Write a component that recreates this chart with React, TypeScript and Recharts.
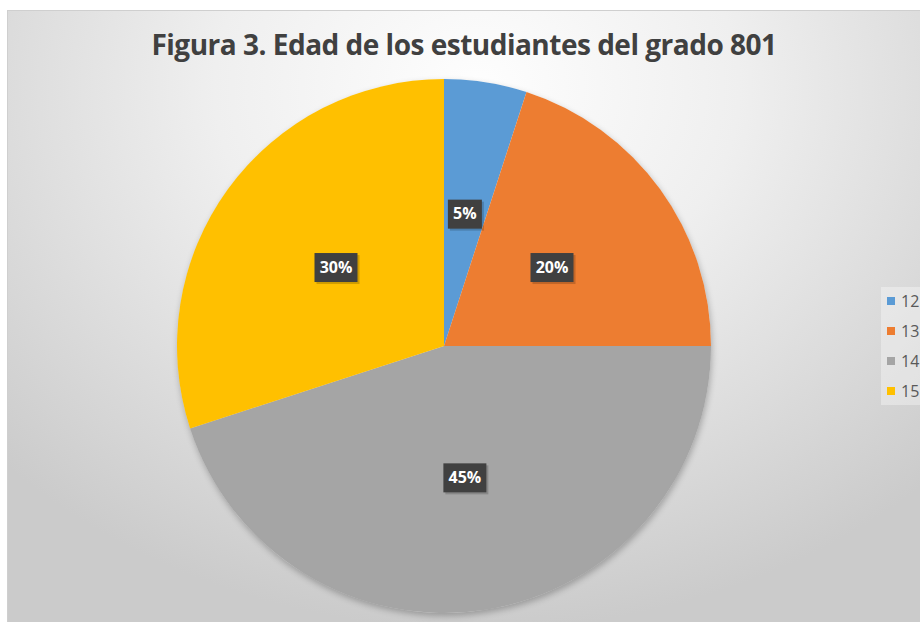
import { PieChart, Pie, Cell, Legend } from 'recharts';

const edades = ['12', '13', '14', '15'];
const porcentajes = [5, 20, 45, 30];
const colores = ['#5B9BD5', '#ED7D31', '#A5A5A5', '#FFC000'];
const titulo = 'Figura 3. Edad de los estudiantes del grado 801';

const data = edades.map((edad, i) => ({ name: edad, value: porcentajes[i] }));

const RAD = Math.PI / 180;

// data label: dark box with white bold text at half radius
const renderLabel = (props: any) => {
  const { cx, cy, midAngle, outerRadius, value } = props;
  const r = outerRadius * 0.5;
  const x = cx + r * Math.cos(-midAngle * RAD);
  const y = cy + r * Math.sin(-midAngle * RAD);
  const txt = `${value}%`;
  const w = txt.length > 2 ? 43 : 34;
  const h = 29;
  return (
    <g>
      <rect x={x - w / 2 + 2} y={y - h / 2 + 2} width={w} height={h} fill="rgba(0,0,0,0.18)" />
      <rect x={x - w / 2} y={y - h / 2} width={w} height={h} fill="#404040" />
      <text
        x={x}
        y={y + 1}
        fill="#ffffff"
        textAnchor="middle"
        dominantBaseline="middle"
        fontFamily="'Open Sans', sans-serif"
        fontWeight={700}
        fontSize={16}
      >
        {txt}
      </text>
    </g>
  );
};

const LegendContent = ({ payload }: any) => (
  <div style={{ fontFamily: "'Open Sans', sans-serif", fontSize: 16, color: '#595959' }}>
    {(payload || []).map((p: any) => (
      <div key={p.value} style={{ height: 30, display: 'flex', alignItems: 'center' }}>
        <span style={{ width: 8, height: 8, background: p.color, display: 'inline-block', marginRight: 6 }} />
        <span>{p.value}</span>
      </div>
    ))}
  </div>
);

export default function App() {
  return (
    <div style={{ position: 'absolute', left: 0, top: 0, width: 920, height: 622, overflow: 'hidden', background: '#ffffff' }}>
      <div
        style={{
          position: 'absolute',
          left: 7,
          top: 10,
          width: 940,
          height: 640,
          boxSizing: 'border-box',
          border: '1px solid #cfcfcf',
          background: 'radial-gradient(ellipse 70% 85% at 50% 12%, #fefefe 0%, #efefef 40%, #cbcbcb 100%)',
        }}
      />
      <div
        style={{
          position: 'absolute',
          left: 881,
          top: 287,
          width: 60,
          height: 118,
          background: 'rgba(255,255,255,0.35)',
        }}
      />
      <div
        style={{
          position: 'absolute',
          left: 444 - 267,
          top: 346 - 267,
          width: 534,
          height: 534,
          borderRadius: '50%',
          boxShadow: '1px 3px 6px rgba(0,0,0,0.25)',
        }}
      />
      <div
        style={{
          position: 'absolute',
          left: 0,
          top: 25,
          width: 928,
          textAlign: 'center',
          fontFamily: "'Open Sans', sans-serif",
          fontWeight: 700,
          fontSize: 28,
          letterSpacing: -0.5,
          color: '#404040',
        }}
      >
        {titulo}
      </div>
      <div style={{ position: 'absolute', left: 0, top: 0 }}>
        <PieChart width={920} height={622} margin={{ top: 0, right: 0, bottom: 0, left: 0 }}>
          <Pie
            data={data}
            dataKey="value"
            nameKey="name"
            cx={444}
            cy={346}
            outerRadius={267}
            startAngle={90}
            endAngle={-270}
            stroke="none"
            labelLine={false}
            label={renderLabel}
            isAnimationActive={false}
          >
            {data.map((d, i) => (
              <Cell key={d.name} fill={colores[i]} />
            ))}
          </Pie>
          <Legend
            layout="vertical"
            content={<LegendContent />}
            wrapperStyle={{ position: 'absolute', left: 887, top: 286, width: 40 }}
          />
        </PieChart>
      </div>
    </div>
  );
}
